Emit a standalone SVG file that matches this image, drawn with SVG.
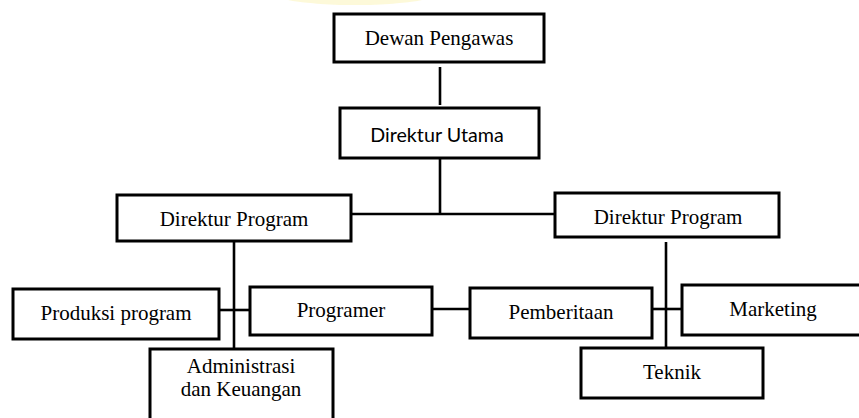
<svg xmlns="http://www.w3.org/2000/svg" width="859" height="418" viewBox="0 0 859 418">
<style>
.box{fill:#fff;stroke:#000;stroke-width:3}
.ln{stroke:#000;stroke-width:2.6;fill:none}
.t{font-family:"Liberation Serif","Times New Roman",serif;font-size:21px;fill:#000;text-anchor:middle}
.s{font-family:Lato,"Liberation Sans",sans-serif;font-size:19.7px;fill:#000;text-anchor:middle}
</style>
<rect width="859" height="418" fill="#fff"/>
<ellipse cx="355" cy="-6" rx="80" ry="11" fill="#fcf7cf" opacity="0.8"/>
<g id="connectors">
<line class="ln" x1="440" y1="67" x2="440" y2="105"/>
<line class="ln" x1="440" y1="158" x2="440" y2="214"/>
<line class="ln" x1="351" y1="214" x2="555" y2="214"/>
<line class="ln" x1="234" y1="241" x2="234" y2="349"/>
<line class="ln" x1="219" y1="310" x2="250" y2="310"/>
<line class="ln" x1="432" y1="309" x2="470" y2="309"/>
<line class="ln" x1="666" y1="242" x2="666" y2="348"/>
<line class="ln" x1="652" y1="309" x2="682" y2="309"/>
</g>
<g id="dewan"><rect class="box" x="334" y="14" width="210" height="48"/><text class="t" x="439" y="45">Dewan Pengawas</text></g>
<g id="dirut"><rect class="box" x="340" y="108" width="199" height="50"/><text class="s" x="437" y="142">Direktur Utama</text></g>
<g id="dirprog1"><rect class="box" x="117" y="195" width="234" height="46"/><text class="t" x="234" y="226">Direktur Program</text></g>
<g id="dirprog2"><rect class="box" x="555" y="193" width="224" height="44"/><text class="t" x="668" y="224">Direktur Program</text></g>
<g id="produksi"><rect class="box" x="13" y="289" width="206" height="50"/><text class="t" x="116" y="320">Produksi program</text></g>
<g id="programer"><rect class="box" x="250" y="287" width="182" height="48"/><text class="t" x="341" y="317">Programer</text></g>
<g id="pemberitaan"><rect class="box" x="470" y="288" width="182" height="50"/><text class="t" x="561" y="319">Pemberitaan</text></g>
<g id="marketing"><rect class="box" x="682" y="285" width="184" height="50"/><text class="t" x="773" y="316">Marketing</text></g>
<g id="teknik"><rect class="box" x="581" y="348" width="182" height="50"/><text class="t" x="672" y="379">Teknik</text></g>
<g id="administrasi"><rect class="box" x="150" y="349" width="183" height="80"/><text class="t" x="241" y="373">Administrasi</text><text class="t" x="241" y="396">dan Keuangan</text></g>
</svg>
